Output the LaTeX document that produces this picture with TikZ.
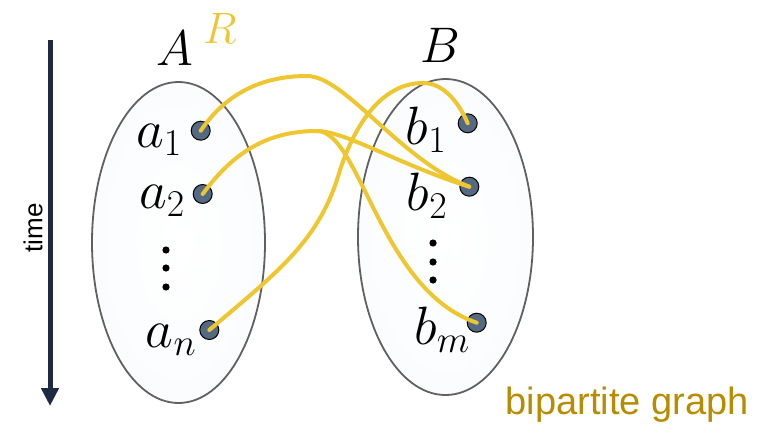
\RequirePackage{fix-cm}
\documentclass[tikz,border=0pt]{standalone}
\usepackage{fontspec}
\newfontfamily\arialfont{Liberation Sans}
\usetikzlibrary{arrows.meta,shapes.geometric}
\definecolor{edgeyellow}{RGB}{238,198,48}
\definecolor{dotfill}{RGB}{84,106,130}
\definecolor{navy}{RGB}{31,42,68}
\definecolor{gold}{RGB}{184,140,0}
\definecolor{setin}{RGB}{248,251,253}
\pgfdeclareradialshading{ellshade}{\pgfpoint{0bp}{0bp}}{color(0bp)=(white); color(34bp)=(setin); color(44bp)=(gray!14); color(50bp)=(gray!50)}
\tikzset{
  setbox/.style={ellipse, draw=gray!75!black, line width=1.8pt, shade, shading=ellshade, inner sep=0pt},
  vert/.style={circle, draw=black, line width=1pt, fill=dotfill, minimum size=19pt, inner sep=0pt},
  lab/.style={font=\fontsize{54}{58}\selectfont, inner sep=0pt},
  rel/.style={draw=edgeyellow, line width=4pt, line cap=round},
  vdot/.style={fill=black},
}
\begin{document}
\begin{tikzpicture}[x=1pt,y=-1pt]
\useasboundingbox (0,0) rectangle (768,423);
% sets
\node[setbox, minimum width=173pt, minimum height=321pt] (setA) at (178.5,242.5) {};
\node[setbox, minimum width=175pt, minimum height=316pt] (setB) at (445.5,237) {};
% titles
\node[lab, font=\fontsize{50}{54}\selectfont] (tA) at (175,48) {$A$};
\node[lab, font=\fontsize{50}{54}\selectfont] (tB) at (440,45) {$B$};
\node[lab, text=edgeyellow, font=\fontsize{44}{48}\selectfont] (tR) at (220,28) {$R$};
% labels
\node[lab] (la1) at (159,140) {$a_1$};
\node[lab] (la2) at (162,201) {$a_2$};
\node[lab] (lan) at (171,340) {$a_n$};
\node[lab] (lb1) at (426,130) {$b_1$};
\node[lab] (lb2) at (427,196) {$b_2$};
\node[lab] (lbm) at (442,330) {$b_m$};
% vdots
\fill[vdot] (166,250) circle[radius=3.6pt] (166,268) circle[radius=3.6pt] (166,287) circle[radius=3.6pt];
\fill[vdot] (433,243) circle[radius=3.6pt] (433,262) circle[radius=3.6pt] (433,280) circle[radius=3.6pt];
% vertices
\node[vert] (a1) at (200.7,130.7) {};
\node[vert] (a2) at (202.7,194) {};
\node[vert] (an) at (209.3,330) {};
\node[vert] (b1) at (467.7,123.3) {};
\node[vert] (b2) at (469.3,186.7) {};
\node[vert] (bm) at (476.7,322.7) {};
% relation edges
\coordinate (p1) at (307,76);
\coordinate (p2) at (317,131);
\coordinate (p3) at (340,170);
\coordinate (p4) at (423,83);
\draw[rel] (a1.center) .. controls (225,95) and (260,76) .. (p1) .. controls (345,76) and (400,160) .. (b2.center);
\draw[rel] (a2.center) .. controls (235,150) and (270,131) .. (p2) .. controls (345,131) and (400,165) .. (b2.center);
\draw[rel] (p2) .. controls (360,131) and (380,290) .. (bm.center);
\draw[rel] (an.center) .. controls (280,270) and (320,240) .. (p3) .. controls (360,110) and (390,83) .. (p4) .. controls (445,83) and (460,105) .. (b1.center);
% time arrow
\coordinate (t0) at (50,40);
\coordinate (t1) at (50,406);
\draw[navy, line width=5pt, -{Triangle[length=18pt,width=17pt]}] (t0) -- (t1);
\node[rotate=90, font=\arialfont\fontsize{26}{30}\selectfont] (time) at (33,228) {time};
\node[text=gold, font=\arialfont\fontsize{38}{42}\selectfont] (bg) at (627,405) {bipartite graph};
\end{tikzpicture}
\end{document}
